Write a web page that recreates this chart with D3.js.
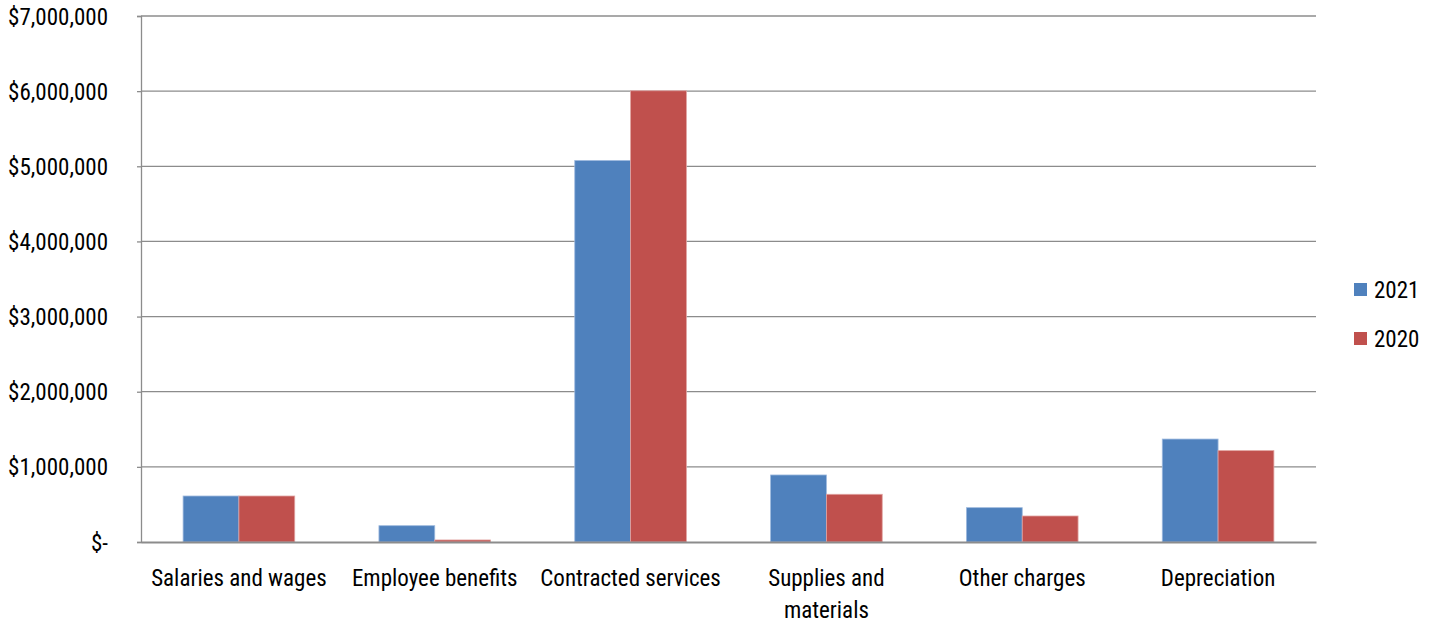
<!DOCTYPE html>
<html><head><meta charset="utf-8">
<script src="https://cdn.jsdelivr.net/npm/d3@7"></script>
<style>
html,body{margin:0;padding:0;background:#fff;}
text{font-family:"Liberation Sans Narrow","Arial Narrow","Roboto Condensed","Liberation Sans",sans-serif;fill:#000;}
</style></head>
<body>
<svg id="c" width="1436" height="623"></svg>
<script>
const categories = [["Salaries and wages"],["Employee benefits"],["Contracted services"],["Supplies and","materials"],["Other charges"],["Depreciation"]];
const seriesNames = ["2021","2020"];
const values2021 = [612000, 217000, 5077000, 892000, 457000, 1370000];
const values2020 = [612000, 27000, 6005000, 635000, 346000, 1216000];
const yTicks = [0,1000000,2000000,3000000,4000000,5000000,6000000,7000000];
const colors = ["#4F81BD","#C0504D"];
const strokes = ["#9DB9DE","#E0A3A1"];

(function(){
const svg = d3.select("#c");
const pL = 141, pR = 1316, pT = 16, pB = 542;
const x = d3.scaleBand().domain(d3.range(categories.length)).range([pL,pR]).paddingInner(0.43).paddingOuter(0.215);
const y = d3.scaleLinear().domain([0,7000000]).range([pB,pT]);
const xs = d3.scaleBand().domain([0,1]).range([0,x.bandwidth()]);

svg.append("g").selectAll("line").data(yTicks.filter(d=>d>0)).join("line")
  .attr("x1",pL).attr("x2",pR).attr("y1",d=>y(d)).attr("y2",d=>y(d))
  .attr("stroke","#8c8c8c").attr("stroke-width",1.3);

const fmt = d => d===0 ? "$-" : "$" + d3.format(",")(d);
const yAxis = d3.axisLeft(y).tickValues(yTicks).tickSize(4).tickPadding(29).tickFormat(fmt);
const gy = svg.append("g").attr("transform",`translate(${pL},0)`).call(yAxis);
gy.select(".domain").attr("stroke","#8c8c8c").attr("stroke-width",1.3);
gy.selectAll(".tick line").attr("stroke","#8c8c8c").attr("stroke-width",1.3);
gy.selectAll(".tick text").attr("font-size",23).attr("font-family",null).attr("dy","0.35em");

const data = [values2021, values2020];
const groups = svg.append("g").selectAll("g").data(categories).join("g")
  .attr("transform",(d,i)=>`translate(${x(i)},0)`);
groups.selectAll("rect").data((d,i)=>data.map((s,k)=>({k,v:s[i]}))).join("rect")
  .attr("x",d=>xs(d.k)).attr("width",xs.bandwidth())
  .attr("y",d=>y(d.v)).attr("height",d=>pB-y(d.v))
  .attr("fill",d=>colors[d.k]).attr("stroke",d=>strokes[d.k]).attr("stroke-width",0.8);

const xAxis = d3.axisBottom(d3.scaleLinear().domain([0,categories.length]).range([pL,pR]))
  .tickValues([]).tickSize(0).tickFormat("");
const gx = svg.append("g").attr("transform",`translate(0,${pB})`).call(xAxis);
gx.select(".domain").attr("stroke","#8c8c8c").attr("stroke-width",2);

const lab = svg.append("g").selectAll("text").data(categories).join("text")
  .attr("x",(d,i)=>x(i)+x.bandwidth()/2).attr("y",586)
  .attr("text-anchor","middle").attr("font-size",23);
lab.selectAll("tspan").data(d=>d).join("tspan")
  .attr("x",function(){return this.parentNode.getAttribute("x");})
  .attr("dy",(d,j)=>j===0?0:32).text(d=>d);

const leg = svg.append("g").selectAll("g").data(seriesNames).join("g")
  .attr("transform",(d,i)=>`translate(1354,${283+i*49})`);
leg.append("rect").attr("width",13).attr("height",13).attr("fill",(d,i)=>colors[i]);
leg.append("text").attr("x",20).attr("y",7).attr("dy","0.35em").attr("font-size",23).text(d=>d);
})();
</script>
</body></html>
